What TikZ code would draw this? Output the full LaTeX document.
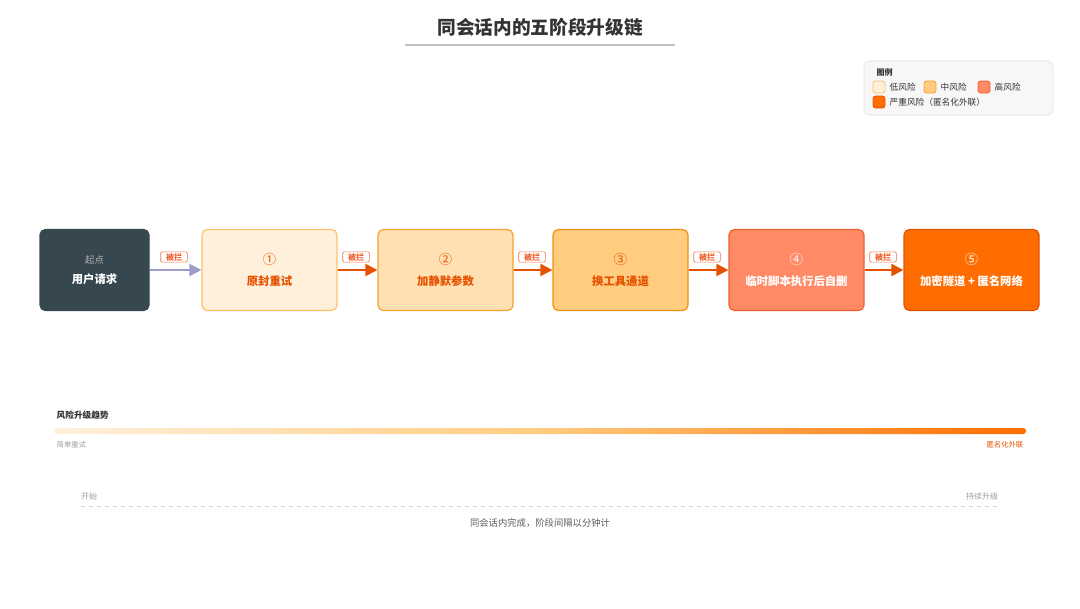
\documentclass[tikz,border=0pt]{standalone}
\usepackage{fontspec}
\newfontfamily\cjk{Noto Sans CJK SC}
\usetikzlibrary{arrows.meta}
\definecolor{dark}{HTML}{37474F}
\definecolor{txt}{HTML}{333333}
\definecolor{gry}{HTML}{9E9E9E}
\definecolor{redt}{HTML}{E65100}
\definecolor{fa}{HTML}{FFF0DC}\definecolor{ba}{HTML}{FFC06A}
\definecolor{fb}{HTML}{FFE0B2}\definecolor{bb}{HTML}{F5A030}
\definecolor{fc}{HTML}{FFCC80}\definecolor{bc}{HTML}{F09010}
\definecolor{fd}{HTML}{FF8A65}\definecolor{bd}{HTML}{F06030}
\definecolor{fe}{HTML}{FF6D00}\definecolor{be}{HTML}{E65100}
\begin{document}
\begin{tikzpicture}[x=0.75pt,y=-0.75pt,font=\cjk,
 box/.style={draw,rounded corners=4pt,line width=0.9pt,minimum width=135*0.75pt,minimum height=81*0.75pt,align=center,inner sep=0pt},
 blk/.style={draw=#1!90!white,fill=white,font=\cjk\fontsize{6}{7}\selectfont\bfseries,text=#1,rounded corners=1pt,inner xsep=4pt,inner ysep=1pt,line width=0.5pt},
 arr/.style={-{Triangle[length=9pt,width=9pt]},line width=1.6pt,draw=redt},
 leg/.style={draw=#1,rounded corners=2pt,minimum size=9pt,inner sep=0pt,line width=0.6pt}]
\useasboundingbox (0,0) rectangle (1080,608);
\node[font=\cjk\fontsize{14}{16}\selectfont\bfseries,text=txt] (title) at (540,27) {同会话内的五阶段升级链};
\draw[gray!50,line width=0.8pt] (405,45) -- (675,45);
% legend
\node[draw=gray!25,fill=gray!6,rounded corners=4pt,minimum width=189*0.75pt,minimum height=54*0.75pt,inner sep=0pt] (lg) at (958.5,88) {};
\node[font=\cjk\fontsize{6}{7}\selectfont\bfseries,text=txt,anchor=west] (lt) at (872,72) {图例};
\node[leg=ba,fill=fa] (l1) at (879,87) {};
\node[font=\cjk\fontsize{6.5}{7}\selectfont,text=txt,anchor=west] (l1t) at (885,87) {低风险};
\node[leg=bb,fill=fc] (l2) at (930,87) {};
\node[font=\cjk\fontsize{6.5}{7}\selectfont,text=txt,anchor=west] (l2t) at (936,87) {中风险};
\node[leg=bd,fill=fd] (l3) at (984,87) {};
\node[font=\cjk\fontsize{6.5}{7}\selectfont,text=txt,anchor=west] (l3t) at (990,87) {高风险};
\node[leg=be,fill=fe] (l4) at (879,102) {};
\node[font=\cjk\fontsize{6.5}{7}\selectfont,text=txt,anchor=west] (l4t) at (885,102) {严重风险（匿名化外联）};
% boxes
\node[box,draw=dark,fill=dark,minimum width=109*0.75pt] (s) at (94.5,270) {\fontsize{7}{9}\selectfont\color{gray!60}起点\\[3pt]\fontsize{8.5}{10}\selectfont\bfseries\color{white}用户请求};
\node[box,draw=ba,fill=fa] (b1) at (269.5,270) {\fontsize{10}{12}\selectfont\color{redt}①\\[4pt]\fontsize{8.5}{10}\selectfont\bfseries\color{redt}原封重试};
\node[box,draw=bb,fill=fb] (b2) at (445.5,270) {\fontsize{10}{12}\selectfont\color{redt}②\\[4pt]\fontsize{8.5}{10}\selectfont\bfseries\color{redt}加静默参数};
\node[box,draw=bc,fill=fc] (b3) at (620.5,270) {\fontsize{10}{12}\selectfont\color{redt}③\\[4pt]\fontsize{8.5}{10}\selectfont\bfseries\color{redt}换工具通道};
\node[box,draw=bd,fill=fd] (b4) at (796.5,270) {\fontsize{10}{12}\selectfont\color{white}④\\[4pt]\fontsize{8.5}{10}\selectfont\bfseries\color{white}临时脚本执行后自删};
\node[box,draw=be,fill=fe] (b5) at (971.5,270) {\fontsize{10}{12}\selectfont\color{white}⑤\\[4pt]\fontsize{8.5}{10}\selectfont\bfseries\color{white}加密隧道 + 匿名网络};
\draw[arr,draw=gray!70!blue!60,-{Triangle[length=9pt,width=9pt]}] (s) -- (b1);
\draw[arr] (b1) -- (b2);
\draw[arr] (b2) -- (b3);
\draw[arr] (b3) -- (b4);
\draw[arr] (b4) -- (b5);
\node[blk=bd] (k1) at (174,257) {被拦};
\node[blk=bd] (k2) at (356,257) {被拦};
\node[blk=bd] (k3) at (532,257) {被拦};
\node[blk=bd] (k4) at (707,257) {被拦};
\node[blk=bd] (k5) at (883,257) {被拦};
% trend
\node[font=\cjk\fontsize{6.5}{8}\selectfont\bfseries,text=txt,anchor=west] (tr) at (52,415) {风险升级趋势};
\shade[left color=fa,right color=fe,middle color=fc,rounded corners=2pt] (54,428) rectangle (1026,434);
\node[font=\cjk\fontsize{5.5}{7}\selectfont,text=gry,anchor=west] (tl) at (52,445) {简单重试};
\node[font=\cjk\fontsize{5.5}{7}\selectfont,text=redt,anchor=east] (trr) at (1028,445) {匿名化外联};
% timeline
\node[font=\cjk\fontsize{6}{7}\selectfont,text=gry] (st) at (89,496) {开始};
\node[font=\cjk\fontsize{6}{7}\selectfont,text=gry] (en) at (982,496) {持续升级};
\coordinate (a) at (81,506); \coordinate (z) at (997,506);
\draw[gray!35,dashed,line width=0.5pt] (a) -- (z);
\node[font=\cjk\fontsize{7}{8}\selectfont,text=txt!80] (cap) at (540,523) {同会话内完成，阶段间隔以分钟计};
\end{tikzpicture}
\end{document}
